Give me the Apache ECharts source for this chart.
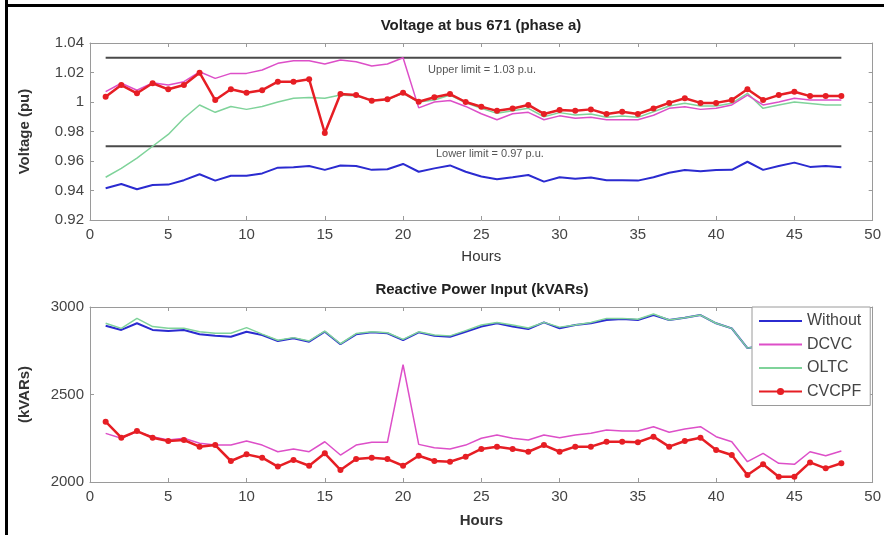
<!DOCTYPE html>
<html>
<head>
<meta charset="utf-8">
<script src="https://cdn.jsdelivr.net/npm/echarts@6/dist/echarts.min.js"></script>
<style>
html,body{margin:0;padding:0;background:#fff;}
#chart{width:884px;height:535px;}
</style>
</head>
<body>
<div id="chart"></div>
<script>
// ---------- DATA ----------
var hours = [1,2,3,4,5,6,7,8,9,10,11,12,13,14,15,16,17,18,19,20,21,22,23,24,25,26,27,28,29,30,31,32,33,34,35,36,37,38,39,40,41,42,43,44,45,46,47,48];

var voltWithout = [0.9415,0.9444,0.9408,0.9437,0.944,0.947,0.951,0.9467,0.950,0.950,0.9516,0.9555,0.9557,0.9566,0.954,0.957,0.9566,0.954,0.9544,0.958,0.9527,0.955,0.957,0.9527,0.9495,0.9476,0.949,0.9505,0.946,0.949,0.948,0.9488,0.947,0.947,0.9467,0.949,0.952,0.9539,0.953,0.9539,0.954,0.9595,0.954,0.9566,0.9589,0.956,0.9566,0.9557];
var voltDCVC = [1.007,1.0127,1.008,1.013,1.0115,1.0138,1.0205,1.016,1.0194,1.0194,1.0217,1.0262,1.028,1.028,1.0257,1.0285,1.0273,1.0244,1.0258,1.030,0.996,1.000,1.001,0.997,0.992,0.988,0.992,0.993,0.988,0.9906,0.989,0.9896,0.988,0.988,0.988,0.991,0.9957,0.9968,0.995,0.9957,0.998,1.0047,0.998,1.000,1.0025,1.0013,1.0013,1.0013];
var voltOLTC = [0.949,0.955,0.962,0.970,0.978,0.989,0.998,0.993,0.997,0.995,0.997,1.000,1.0025,1.003,1.0025,1.0047,1.004,1.0013,1.0018,1.0059,1.000,1.0013,1.0047,0.9995,0.9957,0.9923,0.9941,0.9957,0.990,0.9928,0.9912,0.9919,0.9896,0.9905,0.9896,0.9934,0.9973,0.9991,0.9973,0.9973,0.9991,1.0059,0.9957,0.998,1.000,0.999,0.998,0.998];
var voltCVCPF = [1.0036,1.0115,1.0059,1.0127,1.0086,1.0115,1.0199,1.0013,1.0086,1.0063,1.008,1.0138,1.0138,1.0154,0.979,1.0054,1.0047,1.0009,1.0018,1.0063,1.0002,1.0032,1.0054,1.000,0.9968,0.994,0.9956,0.998,0.9919,0.9946,0.994,0.995,0.9919,0.9934,0.9919,0.9956,0.9994,1.0025,0.9994,0.9994,1.0013,1.0086,1.0013,1.0047,1.007,1.004,1.004,1.004];

var qWithout = [2893,2869,2907,2869,2863,2869,2844,2836,2830,2859,2840,2806,2821,2802,2859,2787,2844,2855,2850,2811,2855,2836,2830,2859,2888,2907,2888,2874,2912,2878,2897,2907,2926,2931,2926,2954,2926,2939,2954,2907,2878,2765,2780,2790,2775,2790,2785,2790];
var qDCVC = [2278,2250,2288,2259,2240,2250,2221,2211,2211,2234,2211,2173,2189,2173,2230,2154,2211,2227,2227,2670,2215,2196,2189,2211,2250,2269,2250,2240,2269,2253,2269,2278,2297,2291,2291,2316,2284,2303,2316,2259,2230,2116,2164,2107,2101,2173,2150,2177];
var qOLTC = [2907,2878,2935,2888,2878,2878,2859,2850,2850,2882,2845,2810,2825,2806,2862,2790,2848,2858,2853,2815,2858,2840,2835,2865,2897,2912,2897,2880,2912,2885,2897,2912,2935,2935,2930,2960,2926,2939,2954,2907,2878,2765,2780,2790,2775,2790,2785,2790];
var qCVCPF = [2345,2253,2291,2253,2234,2240,2202,2211,2120,2158,2139,2088,2126,2093,2164,2069,2131,2139,2131,2093,2150,2120,2116,2145,2189,2202,2189,2173,2211,2173,2202,2202,2230,2230,2227,2259,2202,2234,2253,2183,2154,2040,2101,2030,2030,2112,2078,2107];

var upperLimit = 1.03;
var lowerLimit = 0.97;
var limitHours = [1, 48];
var upperLabel = 'Upper limit = 1.03 p.u.';
var lowerLabel = 'Lower limit = 0.97 p.u.';
var seriesNames = ['Without','DCVC','OLTC','CVCPF'];
var voltTicks = ['0.92','0.94','0.96','0.98','1','1.02','1.04'];
var qTicks = ['2000','2500','3000'];

// ---------- CHART ----------
function pairs(vals){ return hours.map(function(h,i){ return [h, vals[i]]; }); }
var FONT = "'Liberation Sans', Arial, sans-serif";
var colors = { Without:'#2b2bd0', DCVC:'#dd4fc8', OLTC:'#7fd39a', CVCPF:'#e61e24' };

function xAx(gi, mirror, nameBold){
  return {
    type:'value', gridIndex:gi, min:0, max:50, interval:5,
    position: mirror ? 'top' : 'bottom',
    name: mirror ? '' : 'Hours', nameLocation:'middle', nameGap: nameBold ? 31 : 29,
    nameTextStyle:{ fontFamily:FONT, fontSize:15, color:'#333', fontWeight: nameBold ? 'bold' : 'normal' },
    axisLine:{ show:true, onZero:false, lineStyle:{ color:'#9a9a9a', width:1 } },
    axisTick:{ show:true, inside:true, length:4, lineStyle:{ color:'#9a9a9a' } },
    axisLabel:{ show:!mirror, fontFamily:FONT, fontSize:15, color:'#444', margin:7 },
    splitLine:{ show:false }
  };
}
function yAx(gi, mirror, min, max, interval, name, ticks){
  return {
    type:'value', gridIndex:gi, min:min, max:max, interval:interval,
    position: mirror ? 'right' : 'left',
    name: mirror ? '' : name, nameLocation:'middle', nameGap:58, nameRotate:90,
    nameTextStyle:{ fontFamily:FONT, fontSize:15, color:'#333', fontWeight:'bold' },
    axisLine:{ show:true, onZero:false, lineStyle:{ color:'#9a9a9a', width:1 } },
    axisTick:{ show:true, inside:true, length:4, lineStyle:{ color:'#9a9a9a' } },
    axisLabel:{ show:!mirror, fontFamily:FONT, fontSize:15, color:'#444', margin:6,
      formatter:function(v){
        var idx = Math.round((v - min)/interval);
        return ticks[idx] !== undefined ? ticks[idx] : '';
      } },
    splitLine:{ show:false }
  };
}

function lineSeries(name, data, xi, yi, width, extra){
  var s = {
    name:name, type:'line', xAxisIndex:xi, yAxisIndex:yi, data:pairs(data),
    symbol:'none', showSymbol:false, smooth:false, animation:false,
    lineStyle:{ color:colors[name], width:width },
    itemStyle:{ color:colors[name] }
  };
  if (extra) for (var k in extra) s[k] = extra[k];
  return s;
}
function limitSeries(val, xi, yi){
  return {
    name:'limit', type:'line', xAxisIndex:xi, yAxisIndex:yi,
    data: limitHours.map(function(h){ return [h, val]; }),
    symbol:'none', animation:false, silent:true,
    lineStyle:{ color:'#4a4a4a', width:2 }, z:1
  };
}
var redExtra = { symbol:'circle', showSymbol:true, symbolSize:6 };
var noMarker = { opacity:0, color:'rgba(0,0,0,0)', borderColor:'rgba(0,0,0,0)', borderWidth:0 };

var chart = echarts.init(document.getElementById('chart'), null, { renderer:'canvas' });
var option = {
  backgroundColor:'#ffffff',
  animation:false,
  title:[
    { text:'Voltage at bus 671 (phase a)', left:476, top:13, textAlign:'center',
      textStyle:{ fontFamily:FONT, fontSize:15, fontWeight:'bold', color:'#222' } },
    { text:'Reactive Power Input (kVARs)', left:477, top:277, textAlign:'center',
      textStyle:{ fontFamily:FONT, fontSize:15, fontWeight:'bold', color:'#222' } }
  ],
  grid:[
    { left:90, top:43, width:786, height:177, show:false },
    { left:90, top:307, width:786, height:175, show:false }
  ],
  xAxis:[ xAx(0,false,false), xAx(0,true,false), xAx(1,false,true), xAx(1,true,true) ],
  yAxis:[
    yAx(0,false,0.92,1.04,0.02,'Voltage (pu)',voltTicks),
    yAx(0,true,0.92,1.04,0.02,'',voltTicks),
    yAx(1,false,2000,3000,500,'(kVARs)',qTicks),
    yAx(1,true,2000,3000,500,'',qTicks)
  ],
  legend:{
    data:[
      { name:seriesNames[0], itemStyle:noMarker },
      { name:seriesNames[1], itemStyle:noMarker },
      { name:seriesNames[2], itemStyle:noMarker },
      { name:seriesNames[3] }
    ],
    orient:'vertical', left:752, top:307,
    itemWidth:43, itemHeight:9, itemGap:7.5,
    padding:[6,9,6,6],
    backgroundColor:'#ffffff', borderColor:'#9a9a9a', borderWidth:1,
    textStyle:{ fontFamily:FONT, fontSize:16, color:'#444' },
    selectedMode:false
  },
  series:[
    limitSeries(upperLimit,0,0),
    limitSeries(lowerLimit,0,0),
    lineSeries('Without', voltWithout, 0,0, 2),
    lineSeries('OLTC', voltOLTC, 0,0, 1.5),
    lineSeries('DCVC', voltDCVC, 0,0, 1.5),
    lineSeries('CVCPF', voltCVCPF, 0,0, 2.5, redExtra),
    lineSeries('Without', qWithout, 2,2, 2),
    lineSeries('OLTC', qOLTC, 2,2, 1.5),
    lineSeries('DCVC', qDCVC, 2,2, 1.5),
    lineSeries('CVCPF', qCVCPF, 2,2, 2.5, redExtra)
  ]
};
chart.setOption(option);

// limit annotations anchored through the axes
var pu = chart.convertToPixel({ gridIndex:0 }, [21.6, 1.0215]);
var pl = chart.convertToPixel({ gridIndex:0 }, [22.1, 0.9645]);
chart.setOption({
  graphic:[
    { type:'text', left:pu[0], top:pu[1]-6, silent:true,
      style:{ text:upperLabel, font:'11px ' + FONT, fill:'#555' } },
    { type:'text', left:pl[0], top:pl[1]-6, silent:true,
      style:{ text:lowerLabel, font:'11px ' + FONT, fill:'#555' } },
    { type:'rect', left:5, top:0, silent:true, shape:{ width:3, height:535 }, style:{ fill:'#000' } },
    { type:'rect', left:5, top:4, silent:true, shape:{ width:879, height:3 }, style:{ fill:'#000' } }
  ]
});
</script>
</body>
</html>
